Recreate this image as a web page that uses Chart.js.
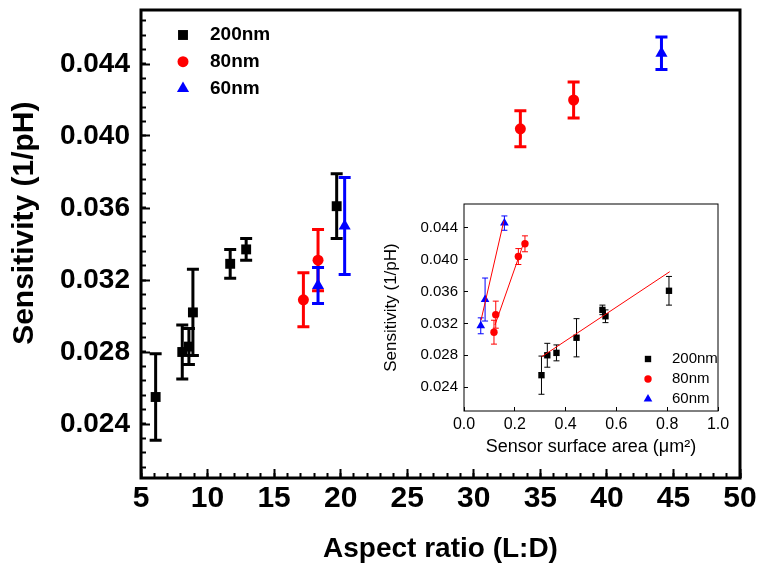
<!DOCTYPE html>
<html>
<head>
<meta charset="utf-8">
<script src="https://cdn.jsdelivr.net/npm/chart.js@4.4.1/dist/chart.umd.min.js"></script>
<style>
  html, body { margin: 0; padding: 0; background: #fff; }
  #wrap { position: relative; width: 759px; height: 572px; }
  #main { position: absolute; left: 0; top: 0; }
  #inset { position: absolute; left: 370px; top: 195px; }
</style>
</head>
<body>
<div id="wrap">
  <canvas id="main" width="759" height="572"></canvas>
  <canvas id="inset" width="365" height="270"></canvas>
</div>
<script>
const SANS = '"Liberation Sans", Arial, sans-serif';

const seriesNames = ["200nm", "80nm", "60nm"];

// main plot: aspect ratio (L:D)
const aspect200 = [6.1, 8.1, 8.6, 8.9, 11.7, 12.9, 19.7];
const aspect80 = [17.2, 18.3, 33.5, 37.5];
const aspect60 = [18.3, 20.3, 44.1];

// inset: sensor surface area (um^2), same order as the sensitivities
const area200 = [0.305, 0.328, 0.364, 0.443, 0.557, 0.545, 0.807];
const area80 = [0.118, 0.125, 0.214, 0.240];
const area60 = [0.066, 0.083, 0.159];

// sensitivity (1/pH)
const sens200 = [0.0255, 0.0280, 0.0283, 0.0302, 0.0329, 0.0337, 0.0361];
const sens80 = [0.0309, 0.0331, 0.0404, 0.0420];
const sens60 = [0.0317, 0.0350, 0.0446];

// error bars (+/-)
const err200 = [0.0024, 0.0015, 0.0010, 0.0024, 0.0008, 0.0006, 0.0018];
const err80 = [0.0015, 0.0017, 0.0010, 0.0010];
const err60 = [0.0010, 0.0027, 0.0009];

// linear fits drawn in the inset (end points)
const fitArea200 = [0.305, 0.81];
const fitSens200 = [0.0278, 0.0385];
const fitArea80 = [0.122, 0.236];
const fitSens80 = [0.0318, 0.0422];
const fitArea60 = [0.067, 0.157];
const fitSens60 = [0.0324, 0.0449];

function pts(xs, ys) {
  return xs.map((x, i) => ({x: x, y: ys[i]}));
}

function shape(ctx, style, x, y, r) {
  ctx.beginPath();
  if (style === 'rect') {
    const s = r * Math.SQRT1_2;
    ctx.rect(x - s, y - s, 2 * s, 2 * s);
  } else if (style === 'circle') {
    ctx.arc(x, y, r, 0, Math.PI * 2);
  } else {
    ctx.moveTo(x, y - r);
    ctx.lineTo(x + r * 0.866, y + r / 2);
    ctx.lineTo(x - r * 0.866, y + r / 2);
    ctx.closePath();
  }
  ctx.fill();
}

// vertical error bars with caps, read through the y scale
const errorBars = {
  id: 'errorBars',
  beforeDatasetsDraw(chart, args, opts) {
    const ctx = chart.ctx;
    const ys = chart.scales.y;
    chart.data.datasets.forEach((ds, di) => {
      if (!ds.errors) return;
      const meta = chart.getDatasetMeta(di);
      ctx.save();
      ctx.strokeStyle = ds.backgroundColor;
      ctx.lineWidth = opts.width;
      meta.data.forEach((pt, i) => {
        const v = ds.data[i].y, e = ds.errors[i];
        const top = ys.getPixelForValue(v + e);
        const bot = ys.getPixelForValue(v - e);
        ctx.beginPath();
        ctx.moveTo(pt.x, top); ctx.lineTo(pt.x, bot);
        ctx.moveTo(pt.x - opts.cap, top); ctx.lineTo(pt.x + opts.cap, top);
        ctx.moveTo(pt.x - opts.cap, bot); ctx.lineTo(pt.x + opts.cap, bot);
        ctx.stroke();
      });
      ctx.restore();
    });
  }
};

const frame = {
  id: 'frame',
  afterDraw(chart, args, opts) {
    const a = chart.chartArea, ctx = chart.ctx;
    ctx.save();
    ctx.strokeStyle = '#000';
    ctx.lineWidth = opts.width;
    ctx.strokeRect(a.left, a.top, a.right - a.left, a.bottom - a.top);
    ctx.restore();
  }
};

const symLegend = {
  id: 'symLegend',
  afterDraw(chart, args, opts) {
    const ctx = chart.ctx;
    let row = 0;
    ctx.save();
    ctx.font = opts.font;
    ctx.textBaseline = 'middle';
    ctx.textAlign = 'left';
    chart.data.datasets.forEach(ds => {
      if (!ds.label) return;
      const y = opts.y + row * opts.gap;
      ctx.fillStyle = ds.backgroundColor;
      shape(ctx, ds.pointStyle, opts.x, y, ds.pointRadius);
      ctx.fillStyle = '#000';
      ctx.fillText(ds.label, opts.textX, y);
      row++;
    });
    ctx.restore();
  }
};

// keep the plot box where it is: no extra room for overhanging tick labels
function fixBox(s, size) {
  if (s.isHorizontal()) s.height = size; else s.width = size;
  s.paddingTop = 0; s.paddingBottom = 0; s.paddingLeft = 0; s.paddingRight = 0;
}

function series(label, xs, ys, errs, color, style, r) {
  return {
    label: label, data: pts(xs, ys), errors: errs,
    backgroundColor: color, borderColor: color, borderWidth: 0,
    pointStyle: style, pointRadius: r, pointHoverRadius: r, showLine: false
  };
}

function fitLine(xs, ys) {
  return {
    label: '', data: pts(xs, ys), type: 'line', showLine: true,
    borderColor: '#ff0000', borderWidth: 1, pointRadius: 0, fill: false
  };
}

function tickAxis(min, max, step, len, pos) {
  return {
    type: 'linear', position: pos, min: min, max: max, weight: 0,
    ticks: {display: false, stepSize: step, includeBounds: false, autoSkip: false},
    grid: {drawOnChartArea: false, tickLength: len, tickWidth: 2, tickColor: '#000'},
    border: {display: false},
    afterFit(s) { fixBox(s, 0); }
  };
}

new Chart(document.getElementById('main'), {
  type: 'scatter',
  data: {
    datasets: [
      series(seriesNames[0], aspect200, sens200, err200, '#000000', 'rect', 7),
      series(seriesNames[1], aspect80, sens80, err80, '#ff0000', 'circle', 5.5),
      series(seriesNames[2], aspect60, sens60, err60, '#0000ff', 'triangle', 7)
    ]
  },
  options: {
    responsive: false,
    animation: false,
    devicePixelRatio: 1,
    layout: {padding: {left: 0, top: 10, right: 19, bottom: 0}},
    plugins: {
      legend: {display: false},
      tooltip: {enabled: false},
      errorBars: {width: 3, cap: 6},
      frame: {width: 3},
      symLegend: {x: 183, y: 35, gap: 26.7, textX: 210, font: 'bold 19px ' + SANS}
    },
    scales: {
      x: {
        type: 'linear', position: 'bottom', min: 5, max: 50, weight: 1,
        ticks: {stepSize: 5, autoSkip: false, maxRotation: 0, padding: 12, color: '#000',
          font: {family: SANS, size: 30, weight: 'bold'}},
        grid: {drawOnChartArea: false, tickLength: -9, tickWidth: 2, tickColor: '#000'},
        border: {display: false},
        title: {display: true, text: 'Aspect ratio (L:D)', color: '#000',
          font: {family: SANS, size: 28, weight: 'bold'}, padding: {top: 0, bottom: 6}},
        afterFit(s) { fixBox(s, 94); }
      },
      xMinor: tickAxis(5, 50, 1, -5, 'bottom'),
      y: {
        type: 'linear', position: 'left', min: 0.021, max: 0.047, weight: 1,
        ticks: {stepSize: 0.004, includeBounds: false, padding: 20, color: '#000',
          callback: v => v.toFixed(3),
          font: {family: SANS, size: 28, weight: 'bold'}},
        grid: {drawOnChartArea: false, tickLength: -9, tickWidth: 2, tickColor: '#000'},
        border: {display: false},
        // leading spaces lift the title to where it sits in the figure
        title: {display: true, text: '     Sensitivity (1/pH)', color: '#000',
          font: {family: SANS, size: 30, weight: 'bold'}, padding: {top: 7, bottom: 0}},
        afterFit(s) { fixBox(s, 141); }
      },
      yMinor: tickAxis(0.021, 0.047, 0.0008, -5, 'left')
    }
  },
  plugins: [errorBars, frame, symLegend]
});

new Chart(document.getElementById('inset'), {
  type: 'scatter',
  data: {
    datasets: [
      fitLine(fitArea200, fitSens200),
      fitLine(fitArea80, fitSens80),
      fitLine(fitArea60, fitSens60),
      series(seriesNames[0], area200, sens200, err200, '#000000', 'rect', 4.5),
      series(seriesNames[1], area80, sens80, err80, '#ff0000', 'circle', 3.7),
      series(seriesNames[2], area60, sens60, err60, '#0000ff', 'triangle', 5)
    ]
  },
  options: {
    responsive: false,
    animation: false,
    devicePixelRatio: 1,
    layout: {padding: {left: 0, top: 9, right: 17, bottom: 0}},
    plugins: {
      legend: {display: false},
      tooltip: {enabled: false},
      errorBars: {width: 1, cap: 3},
      frame: {width: 1},
      symLegend: {x: 278, y: 164, gap: 20, textX: 302, font: '15px ' + SANS}
    },
    scales: {
      x: {
        type: 'linear', position: 'bottom', min: 0, max: 1, weight: 1,
        ticks: {stepSize: 0.2, autoSkip: false, maxRotation: 0, padding: 8, color: '#000',
          callback: v => v.toFixed(1), font: {family: SANS, size: 16}},
        grid: {drawOnChartArea: false, tickLength: -4, tickWidth: 1, tickColor: '#000'},
        border: {display: false},
        title: {display: true, text: 'Sensor surface area (\u03bcm\u00b2)', color: '#000',
          font: {family: SANS, size: 18}, padding: {top: 0, bottom: 7}},
        afterFit(s) { fixBox(s, 54); }
      },
      y: {
        type: 'linear', position: 'left', min: 0.021, max: 0.047, weight: 1,
        ticks: {stepSize: 0.004, includeBounds: false, padding: 10, color: '#000',
          callback: v => v.toFixed(3), font: {family: SANS, size: 15}},
        grid: {drawOnChartArea: false, tickLength: -4, tickWidth: 1, tickColor: '#000'},
        border: {display: false},
        title: {display: true, text: 'Sensitivity (1/pH)', color: '#000',
          font: {family: SANS, size: 17}, padding: {top: 11, bottom: 0}},
        afterFit(s) { fixBox(s, 94); }
      }
    }
  },
  plugins: [errorBars, frame, symLegend]
});
</script>
</body>
</html>
